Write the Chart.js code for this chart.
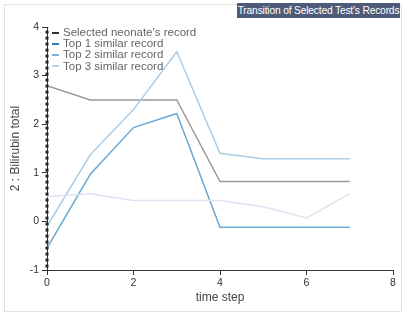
<!DOCTYPE html>
<html>
<head>
<meta charset="utf-8">
<script src="https://cdn.jsdelivr.net/npm/chart.js@4/dist/chart.umd.min.js"></script>
<style>
  html, body { margin: 0; padding: 0; background: #fff; }
  #wrap { position: relative; width: 407px; height: 317px; font-family: "Liberation Sans", Arial, sans-serif; }
  #frame { position: absolute; left: 4px; top: 4px; width: 398px; height: 308px; border: 1px solid #e2e2e2; box-sizing: border-box; }
  #title { position: absolute; left: 237px; top: 3px; width: 163px; height: 15px; background: #4e5b78; color: #fff;
           font-size: 10.3px; line-height: 15px; text-align: center; white-space: nowrap; letter-spacing: -0.2px; }
  #legend { position: absolute; left: 52px; top: 27px; font-size: 11.5px; color: #666; line-height: 11.2px; }
  #legend .row { display: flex; align-items: center; white-space: nowrap; }
  #legend .sw { width: 7px; height: 2px; margin-right: 4px; }
  canvas { position: absolute; left: 0; top: 0; }
</style>
</head>
<body>
<div id="wrap">
  <div id="frame"></div>
  <canvas id="chart" width="407" height="317"></canvas>
  <div id="title">Transition of Selected Test's Records</div>
  <div id="legend"></div>
</div>
<script>
// pasos de tiempo y valores
const timeSteps = [0, 1, 2, 3, 4, 5, 6, 7];
const selectedRecord = [2.79, 2.5, 2.5, 2.5, 0.82, 0.82, 0.82, 0.82];
const top1Record = [-0.55, 0.97, 1.93, 2.22, -0.12, -0.12, -0.12, -0.12];
const top2Record = [-0.1, 1.37, 2.3, 3.49, 1.4, 1.29, 1.29, 1.29];
const top3Record = [0.51, 0.57, 0.43, 0.43, 0.43, 0.3, 0.07, 0.57];
const seriesLabels = ["Selected neonate's record", "Top 1 similar record", "Top 2 similar record", "Top 3 similar record"];
const markerStep = 0;
const yRange = [-1, 4];
const xRange = [0, 8];

const lineColors = ["#9a9a9a", "#6aaad6", "#a9cde8", "#dfe3f2"];
const legendColors = ["#333333", "#2c7fb8", "#7fb2d9", "#bcd0e8"];

const toPoints = (vals) => vals.map((v, i) => ({ x: timeSteps[i], y: v }));

const datasets = [selectedRecord, top1Record, top2Record, top3Record].map((vals, i) => ({
  label: seriesLabels[i],
  data: toPoints(vals),
  borderColor: lineColors[i],
  borderWidth: 1.5,
  pointRadius: 0,
  tension: 0,
  order: 4 - i,
}));

// linea punteada vertical en el paso actual
datasets.push({
  label: "marker",
  data: [{ x: markerStep, y: yRange[0] + 0.05 }, { x: markerStep, y: yRange[1] }],
  borderColor: "#222",
  borderWidth: 3,
  borderDash: [3, 3],
  pointRadius: 0,
  clip: false,
  order: 0,
});

// leyenda en html
const legendEl = document.getElementById("legend");
seriesLabels.forEach((lab, i) => {
  const row = document.createElement("div");
  row.className = "row";
  row.innerHTML = `<span class="sw" style="background:${legendColors[i]}"></span><span>${lab}</span>`;
  legendEl.appendChild(row);
});

const tickFont = { family: "Liberation Sans", size: 10.5 };
const titleFont = { family: "Liberation Sans", size: 12 };

new Chart(document.getElementById("chart"), {
  type: "line",
  data: { datasets },
  options: {
    responsive: false,
    animation: false,
    layout: { padding: { left: 0, top: 27, right: 14, bottom: 10 } },
    plugins: { legend: { display: false }, tooltip: { enabled: false } },
    scales: {
      x: {
        type: "linear",
        min: xRange[0],
        max: xRange[1],
        ticks: { stepSize: 2, color: "#333", font: tickFont, padding: 2 },
        grid: { drawOnChartArea: false, tickLength: 5, tickColor: "#333" },
        border: { color: "#333" },
        title: { display: true, text: "time step", color: "#444", font: titleFont, padding: { top: 2, bottom: 2 } },
        afterFit: (s) => { s.height = 37; },
      },
      y: {
        min: yRange[0],
        max: yRange[1],
        ticks: { stepSize: 1, color: "#333", font: tickFont, padding: 3 },
        grid: { drawOnChartArea: false, tickLength: 5, tickColor: "#333" },
        border: { color: "#333" },
        title: { display: true, text: "2 : Bilirubin total", color: "#444", font: titleFont, padding: { top: 8, bottom: 4 } },
        afterFit: (s) => { s.width = 47; },
      },
    },
  },
});
</script>
</body>
</html>
